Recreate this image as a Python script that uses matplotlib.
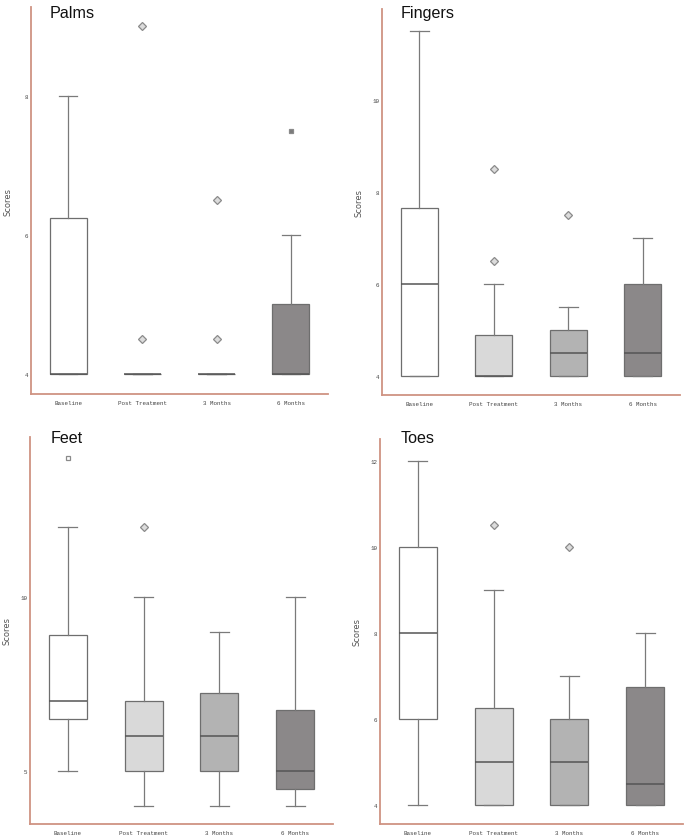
import matplotlib
matplotlib.use("Agg")
import matplotlib.pyplot as plt

categories = ["Baseline", "Post Treatment", "3 Months", "6 Months"]

# Box statistics (per panel, per category)
palms_whislo = [4, 4, 4, 4]
palms_q1 = [4, 4, 4, 4]
palms_med = [4, 4, 4, 4]
palms_q3 = [6.25, 4, 4, 5]
palms_whishi = [8, 4, 4, 6]
palms_fliers = [[], [4.5, 9.0], [4.5, 6.5], [7.5]]

fingers_whislo = [4, 4, 4, 4]
fingers_q1 = [4, 4, 4, 4]
fingers_med = [6, 4, 4.5, 4.5]
fingers_q3 = [7.65, 4.9, 5, 6]
fingers_whishi = [11.5, 6, 5.5, 7]
fingers_fliers = [[], [6.5, 8.5], [7.5], []]

feet_whislo = [5, 4, 4, 4]
feet_q1 = [6.5, 5, 5, 4.5]
feet_med = [7, 6, 6, 5]
feet_q3 = [8.9, 7, 7.25, 6.75]
feet_whishi = [12, 10, 9, 10]
feet_fliers = [[14], [12], [], []]

toes_whislo = [4, 4, 4, 4]
toes_q1 = [6, 4, 4, 4]
toes_med = [8, 5, 5, 4.5]
toes_q3 = [10, 6.25, 6, 6.75]
toes_whishi = [12, 9, 7, 8]
toes_fliers = [[], [10.5], [10], []]

palms_ticks = [4, 6, 8]
fingers_ticks = [4, 6, 8, 10]
feet_ticks = [5, 10]
toes_ticks = [4, 6, 8, 10, 12]

box_colors = ["#ffffff", "#d9d9d9", "#b3b3b3", "#8b8889"]
spine_color = "#cf9382"

W, H = 687, 837
fig = plt.figure(figsize=(W / 100, H / 100), dpi=100)
fig.patch.set_facecolor("white")


def make_stats(lo, q1, med, q3, hi, fl):
    out = []
    for i in range(len(categories)):
        out.append(dict(whislo=lo[i], q1=q1[i], med=med[i], q3=q3[i],
                        whishi=hi[i], fliers=fl[i], label=categories[i]))
    return out


panels = [
    ("Palms", (31, 328, 8, 395), (50, 18), (3.71, 9.28),
     make_stats(palms_whislo, palms_q1, palms_med, palms_q3, palms_whishi, palms_fliers),
     palms_ticks, {3: ("s", "#7a7a7a")}),
    ("Fingers", (382, 680, 10, 396), (401, 18), (3.59, 11.98),
     make_stats(fingers_whislo, fingers_q1, fingers_med, fingers_q3, fingers_whishi, fingers_fliers),
     fingers_ticks, {}),
    ("Feet", (30, 333, 438, 825), (51, 443), (3.48, 14.6),
     make_stats(feet_whislo, feet_q1, feet_med, feet_q3, feet_whishi, feet_fliers),
     feet_ticks, {0: ("s", "white")}),
    ("Toes", (380, 683, 440, 825), (401, 443), (3.56, 12.51),
     make_stats(toes_whislo, toes_q1, toes_med, toes_q3, toes_whishi, toes_fliers),
     toes_ticks, {}),
]

for title, (l, r, t, b), (tx, ty), ylim, stats, ticks, special in panels:
    ax = fig.add_axes([l / W, 1 - b / H, (r - l) / W, (b - t) / H])
    res = ax.bxp(stats, positions=range(len(categories)), widths=0.5,
                 capwidths=0.25, patch_artist=True, showfliers=True,
                 boxprops=dict(edgecolor="#6e6e6e", linewidth=0.9),
                 whiskerprops=dict(color="#7a7a7a", linewidth=0.9),
                 capprops=dict(color="#7a7a7a", linewidth=0.9),
                 medianprops=dict(color="#555555", linewidth=1.1),
                 flierprops=dict(marker="D", markersize=3.6,
                                 markerfacecolor="#dcdcdc",
                                 markeredgecolor="#8a8a8a",
                                 markeredgewidth=0.9))
    for patch, c in zip(res["boxes"], box_colors):
        patch.set_facecolor(c)
    for idx, (mk, fc) in special.items():
        res["fliers"][idx].set_marker(mk)
        res["fliers"][idx].set_markerfacecolor(fc)
        res["fliers"][idx].set_markersize(3.3)
    ax.set_xlim(-0.5, 3.5)
    ax.set_ylim(*ylim)
    ax.set_yticks(ticks)
    ax.set_yticklabels([str(v) for v in ticks])
    ax.set_xticks(range(len(categories)))
    ax.set_xticklabels(categories)
    for lab in ax.get_xticklabels() + ax.get_yticklabels():
        lab.set_fontfamily("Liberation Mono")
        lab.set_fontsize(4.2)
        lab.set_color("#444444")
    ax.tick_params(axis="both", length=0)
    ax.tick_params(axis="y", pad=2)
    ax.tick_params(axis="x", pad=4)
    for s in ["top", "right"]:
        ax.spines[s].set_visible(False)
    for s in ["left", "bottom"]:
        ax.spines[s].set_color(spine_color)
        ax.spines[s].set_linewidth(1.3)
    ax.text(-23 / (r - l), 0.5, "Scores", rotation=90, ha="center", va="center",
            transform=ax.transAxes, fontsize=6, color="#555555",
            family="DejaVu Sans")
    fig.text(tx / W, 1 - ty / H, title, ha="left", va="baseline",
             fontsize=11.6, color="#111111", family="Liberation Sans")

fig.savefig("out.png", dpi=100, facecolor="white")
